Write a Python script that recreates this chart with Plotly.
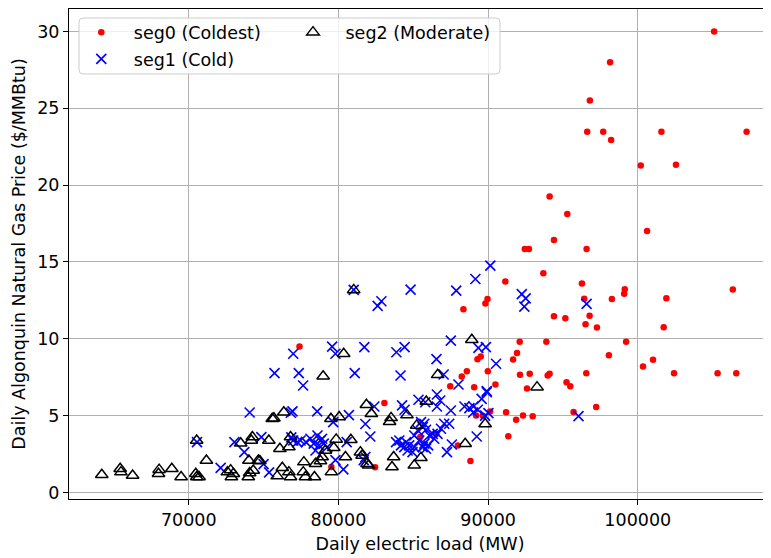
import plotly.graph_objects as go

# ---------------- data ----------------
seg0_load = [105100, 98150, 96800, 96620, 97690, 98220, 101580, 107270, 100200, 102550,
             94110, 95290, 100620, 94400, 92450, 92730, 96580, 93690, 91150, 96270,
             99130, 99090, 106350, 89960, 89820, 96420, 98270, 101910, 88350, 94400,
             95160, 96780, 96510, 97270, 101730, 92110, 93890, 99220, 77400, 91930,
             91670, 89510, 89290, 88580, 88240, 89980, 92130, 92780, 94110, 93980,
             95240, 95490, 90490, 87470, 89070, 92600, 98070, 100350, 101020, 102420,
             105330, 106580, 96560, 97220, 95710, 83070, 91200, 91870, 92330, 92980,
             90130, 89200, 89650, 91350, 88820, 87980, 85470, 86530, 82450, 79530]
seg0_price = [30.0, 28.0, 25.5, 23.47, 23.47, 22.93, 23.47, 23.47, 21.28, 21.33,
              19.25, 18.12, 17.01, 16.43, 15.84, 15.84, 15.84, 14.26, 13.72, 13.59,
              13.22, 12.92, 13.2, 12.59, 12.29, 12.61, 12.59, 12.63, 11.92, 11.47,
              11.33, 11.49, 10.94, 10.73, 10.75, 9.8, 9.8, 9.8, 9.5, 9.08,
              8.65, 8.84, 8.67, 7.89, 7.54, 7.89, 7.65, 7.72, 7.72, 7.61,
              7.17, 6.91, 7.02, 6.91, 6.85, 6.76, 8.93, 8.19, 8.63, 7.76,
              7.76, 7.76, 7.76, 5.55, 5.24, 5.81, 5.22, 4.73, 5.0, 4.96,
              5.27, 5.0, 4.98, 3.66, 2.04, 3.06, 3.6, 3.81, 1.63, 1.65]

seg1_load = [90150, 89150, 87870, 92250, 92510, 92420, 96580, 84820, 82870, 82620,
             81020, 87510, 81730, 83870, 84420, 86550, 89350, 89850, 90530, 84150,
             87030, 88020, 89910, 76980, 79580, 79800, 75730, 77350, 77640, 81090,
             96040,
             74070, 76820, 76930, 78580, 79650, 80700, 82400, 84250, 84420, 85350,
             85800, 86580, 86800, 86580, 87510, 88420, 88750, 89020, 89310, 89570,
             89910, 89800, 90020, 81800, 89000,
             70550, 72130, 73050, 73710, 74850, 75000, 75370, 76850, 76980, 77250,
             77470, 77830, 78130, 78350, 78690, 79020, 78470, 78800, 78910, 79250,
             78600, 79800, 80330, 80550, 81800, 81690, 82130,
             83850, 84070, 84180, 84400, 84520, 84620, 84730, 84950, 85070, 85400,
             85630, 85740, 85850,
             85070, 85300, 85630, 85520, 85740, 85850, 86070, 86300, 86400, 86620,
             86850, 87070, 87400, 86000,
             87250, 87580, 89240]
seg1_price = [14.76, 13.89, 13.13, 12.9, 12.63, 12.09, 12.27, 13.2, 12.44, 12.14,
              13.18, 9.88, 9.45, 9.12, 9.45, 8.67, 9.41, 9.45, 8.37, 7.61,
              7.67, 7.02, 6.6, 9.02, 9.49, 9.02, 7.76, 7.76, 6.96, 7.76,
              4.96,
              5.2, 5.18, 5.27, 5.27, 4.57, 5.03, 5.59, 5.66, 5.38, 6.03,
              5.87, 6.37, 5.98, 5.59, 5.33, 5.59, 5.48, 5.59, 5.38, 6.09,
              6.52, 5.0, 5.16, 4.45, 5.2,
              3.27, 1.6, 3.27, 2.62, 3.6, 1.84, 1.3, 3.58, 3.38, 3.27,
              3.38, 3.27, 3.49, 3.17, 3.06, 3.17, 2.73, 3.38, 3.49, 2.95,
              3.7, 2.1, 1.5, 3.27, 2.3, 2.1, 3.64,
              3.27, 3.38, 3.06, 2.95, 3.27, 2.73, 3.06, 2.62, 2.95, 3.38,
              2.95, 3.17, 2.84,
              3.7, 4.03, 4.25, 4.57, 4.47, 4.08, 3.7, 3.81, 3.49, 3.81,
              4.14, 4.47, 4.47, 3.06,
              2.62, 3.12, 3.64]

seg2_load = [64190, 65420, 65470, 66250, 68020, 67980, 68870, 69490, 70470, 70530,
             70690, 70530, 71180, 72580, 72800, 72980, 72850, 73470, 74250, 74180,
             73980, 74070, 74020, 74310, 74650, 74750, 75350, 75690, 75580, 76350,
             76090, 76690, 76800, 75910, 76250, 76690, 76800, 77690, 77650, 77800,
             78400, 79130, 79690, 79530, 79850, 79500, 80050, 80470, 80830, 78800,
             78910, 78470, 81470, 81580, 81910, 82020, 83690, 83580, 85070, 85510,
             88470, 89800, 80350, 78980, 88910, 86630, 93270, 85870, 81870, 82200,
             83420, 83520, 84580, 85230, 81020]
seg2_price = [1.15, 1.54, 1.32, 1.1, 1.48, 1.21, 1.54, 1.0, 1.21, 1.0,
              1.0, 3.38, 2.08, 1.32, 1.45, 1.21, 1.0, 3.2, 3.6, 3.38,
              1.0, 1.26, 2.08, 1.43, 2.08, 2.05, 3.38, 4.83, 4.79, 5.22,
              2.84, 2.95, 3.6, 1.06, 1.6, 1.32, 1.0, 1.97, 1.32, 1.0,
              1.0, 2.73, 2.9, 1.32, 3.45, 4.79, 4.9, 2.3, 3.43, 2.05,
              2.3, 1.86, 2.62, 2.4, 1.86, 1.76, 2.3, 1.65, 1.76, 2.25,
              3.17, 4.45, 9.02, 7.56, 9.93, 7.65, 6.85, 5.92, 5.7, 5.12,
              4.6, 4.85, 5.03, 4.36, 13.18]

x_ticks = [70000, 80000, 90000, 100000]
y_ticks = [0, 5, 10, 15, 20, 25, 30]

FONT = "DejaVu Sans"
FS = 17.5

fig = go.Figure()
fig.add_trace(go.Scatter(
    x=seg0_load, y=seg0_price, mode="markers", name="seg0 (Coldest)",
    marker=dict(symbol="circle", size=6.5, color="red", line=dict(width=0)),
    legend="legend", showlegend=True))
fig.add_trace(go.Scatter(
    x=seg1_load, y=seg1_price, mode="markers", name="seg1 (Cold)",
    marker=dict(symbol="x-thin", size=10, color="blue", line=dict(width=1.6, color="blue")),
    legend="legend2", showlegend=True))
fig.add_trace(go.Scatter(
    x=seg2_load, y=seg2_price, mode="markers", name="seg2 (Moderate)",
    marker=dict(symbol="triangle-up-open", size=11, color="black", line=dict(width=1.5, color="black")),
    legend="legend3", showlegend=True))

# page body has an 8px default margin; work in page pixels and subtract it
OFF = 8
W, H = 771 - OFF, 558 - OFF
L, R, T, B = 69 - OFF, 771 - OFF, 9 - OFF, 499.3 - OFF

def px2paper(px, py):
    # px, py are page coordinates
    return (px - OFF - L) / (R - L), (B - (py - OFF)) / (B - T)

# legend frame (rounded)
x0, y0 = px2paper(79, 74)
x1, y1 = px2paper(500, 18)
rx = 4 / (R - L)
ry = 4 / (B - T)
path = (f"M {x0+rx},{y0} L {x1-rx},{y0} Q {x1},{y0} {x1},{y0+ry} "
        f"L {x1},{y1-ry} Q {x1},{y1} {x1-rx},{y1} L {x0+rx},{y1} "
        f"Q {x0},{y1} {x0},{y1-ry} L {x0},{y0+ry} Q {x0},{y0} {x0+rx},{y0} Z")
fig.add_shape(type="path", path=path, xref="paper", yref="paper",
              fillcolor="rgba(255,255,255,0.8)", line=dict(color="#cccccc", width=1),
              layer="above")

IW = 55
def leg(px_marker, py_center):
    lx = px_marker - (IW + 10) / 2 - 2
    x, y = px2paper(lx, py_center)
    return dict(x=x, y=y, xanchor="left", yanchor="middle", bgcolor="rgba(0,0,0,0)",
                borderwidth=0, itemwidth=IW, font=dict(family=FONT, size=FS, color="black"))

fig.update_layout(
    width=W, height=H,
    margin=dict(l=L, r=W - R, t=T, b=H - B, autoexpand=False),
    paper_bgcolor="white", plot_bgcolor="white",
    font=dict(family=FONT, size=FS, color="black"),
    showlegend=True,
    legend=leg(103.3, 32.3),
    legend2=leg(103.3, 59),
    legend3=leg(315, 32.3),
    xaxis=dict(range=[62000, 108900], tickvals=x_ticks, tickformat="d",
               automargin=False,
               showgrid=True, gridcolor="#b0b0b0", gridwidth=1,
               showline=True, linecolor="black", linewidth=1.1, mirror=True,
               ticks="outside", ticklen=5, tickwidth=1.1, tickcolor="black",
               zeroline=False, tickfont=dict(family=FONT, size=FS),
               title=dict(text="Daily electric load (MW)", standoff=8,
                          font=dict(family=FONT, size=FS))),
    yaxis=dict(range=[-0.43, 31.46], tickvals=y_ticks,
               automargin=False,
               showgrid=True, gridcolor="#b0b0b0", gridwidth=1,
               showline=True, linecolor="black", linewidth=1.1, mirror=False,
               ticks="outside", ticklen=5, tickwidth=1.1, tickcolor="black",
               zeroline=False, tickfont=dict(family=FONT, size=FS),
               title=dict(text="Daily Algonquin Natural Gas Price ($/MMBtu)", standoff=7,
                          font=dict(family=FONT, size=FS))),
)

fig.write_html("out.html")
